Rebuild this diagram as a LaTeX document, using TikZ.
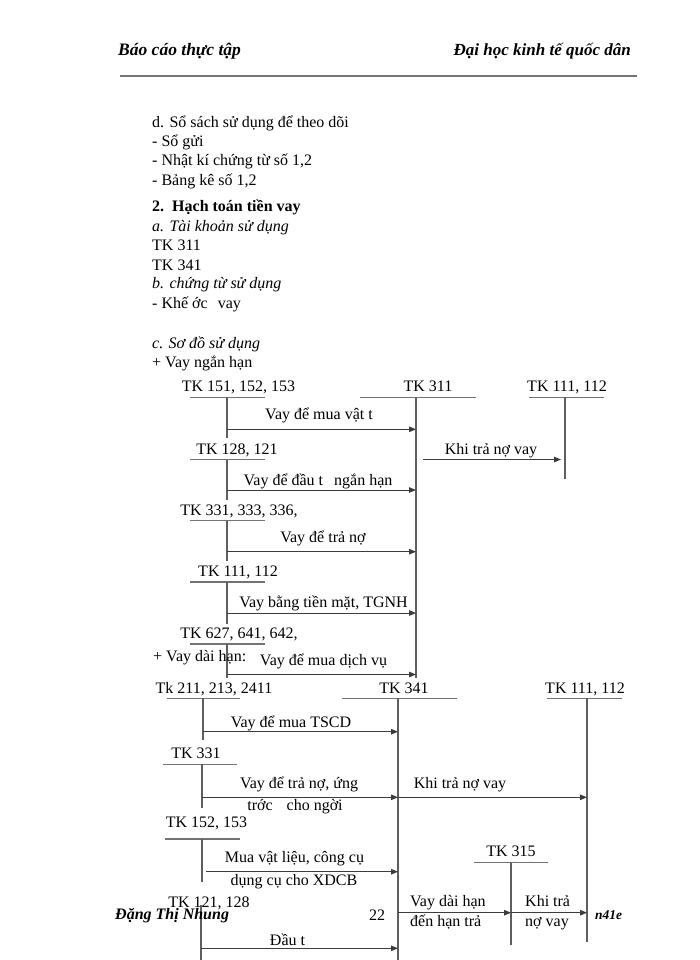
\documentclass[tikz,border=0pt]{standalone}
\usepackage{fontspec}
\setmainfont{Liberation Serif}
\usetikzlibrary{arrows.meta}
\definecolor{ulgray}{RGB}{115,115,115}
\definecolor{vgray}{RGB}{95,95,95}
\definecolor{agray}{RGB}{60,60,60}
\newcommand{\TAcct}[9]{%
  \node[txt] (#1) at (#2,#3) {#9};
  \coordinate (#1-l) at (#4,#6); \coordinate (#1-r) at (#5,#6);
  \coordinate (#1-t) at (#7,#6); \coordinate (#1-b) at (#7,#8);
  \draw[acct] (#1-l) -- (#1-r);
  \draw[vline] (#1-t) -- (#1-b);}
\newcommand{\Flow}[4]{%
  \coordinate (#1-s) at (#2,#4); \coordinate (#1-e) at (#3,#4);
  \draw[arr] (#1-s) -- (#1-e);}
\begin{document}
\begin{tikzpicture}[x=1pt,y=-1pt,
  txt/.style={font=\fontsize{16}{19}\selectfont, inner sep=0pt, anchor=base},
  ltxt/.style={txt, anchor=base west},
  acct/.style={draw=ulgray, line width=1.5pt},
  vline/.style={draw=vgray, line width=1.2pt},
  arr/.style={draw=agray, line width=1pt, -{Triangle[length=7pt,width=5.5pt]}},
  hdr/.style={font=\fontsize{17.5}{20}\selectfont\bfseries\itshape, inner sep=0pt, anchor=base west},
  ftr/.style={font=\fontsize{16}{19}\selectfont\bfseries\itshape, inner sep=0pt, anchor=base west}]
\useasboundingbox (0,0) rectangle (700,960);
\fill[white] (0,0) rectangle (700,960);
% header
\node[hdr] (h1) at (118,56) {Báo cáo thực tập};
\node[hdr, anchor=base east, font=\fontsize{17}{20}\selectfont\bfseries\itshape] (h2) at (631,56) {Đại học kinh tế quốc dân};
\coordinate (rl) at (120,76.5); \coordinate (rr) at (637,76.5);
\draw[draw=ulgray, line width=2pt] (rl) -- (rr);
% text block
\node[ltxt] (t1) at (152,127.5) {d. Sổ sách sử dụng để theo dõi};
\node[ltxt] (t2) at (152,146.7) {- Sổ gửi};
\node[ltxt] (t3) at (152,166) {- Nhật kí chứng từ số 1,2};
\node[ltxt] (t4) at (152,185.5) {- Bảng kê số 1,2};
\node[ltxt, font=\fontsize{16}{19}\selectfont\bfseries] (t5) at (152,211.7) {2.\ \ Hạch toán tiền vay};
\node[ltxt, font=\fontsize{16}{19}\selectfont\itshape] (t6) at (152,231) {a. Tài khoản sử dụng};
\node[ltxt] (t7) at (152,250) {TK 311};
\node[ltxt] (t8) at (152,270) {TK 341};
\node[ltxt, font=\fontsize{16}{19}\selectfont\itshape] (t9) at (152,288.5) {b. chứng từ sử dụng};
\node[ltxt] (t10) at (152,308) {- Khế ớc \hspace{6pt}vay};
\node[ltxt, font=\fontsize{16}{19}\selectfont\itshape] (t11) at (152,348) {c. Sơ đồ sử dụng};
\node[ltxt] (t12) at (152,367) {+ Vay ngắn hạn};
% short-term diagram
\TAcct{A1}{238.5}{391.7}{190}{265}{397.3}{227}{438}{TK 151, 152, 153}
\TAcct{A2}{428}{391.7}{360}{476}{397.3}{416}{678}{TK 311}
\TAcct{A3}{567}{391.7}{529}{604}{397.3}{565}{479}{TK 111, 112}
\node[txt] (l1) at (319,419.3) {Vay để mua vật t};
\Flow{f1}{227}{416}{429.3}
\TAcct{A4}{237}{454}{190}{265}{459.5}{227}{500}{TK 128, 121}
\node[txt] (l2) at (491,454) {Khi trả nợ vay};
\Flow{f2}{423}{561}{459.5}
\node[txt] (l3) at (318,485) {Vay để đầu t \hspace{7pt}ngắn hạn};
\Flow{f3}{227}{416}{490}
\TAcct{A5}{239}{515}{190}{265}{520.7}{227}{561}{TK 331, 333, 336,}
\node[txt] (l4) at (323,542.7) {Vay để trả nợ};
\Flow{f4}{227}{416}{551.7}
\TAcct{A6}{238}{576.5}{190}{265}{582}{227}{624}{TK 111, 112}
\node[txt] (l5) at (323.5,607) {Vay bằng tiền mặt, TGNH};
\Flow{f5}{227}{416}{613}
\TAcct{A7}{239}{638.5}{190}{265}{644}{227}{678}{TK 627, 641, 642,}
\node[ltxt] (l6) at (153,661.7) {+ Vay dài hạn:};
\node[txt] (l7) at (323.5,665) {Vay để mua dịch vụ};
\Flow{f6}{227}{416}{674.5}
% long-term diagram
\TAcct{B1}{214}{693.3}{167}{240}{698.3}{203}{740}{Tk 211, 213, 2411}
\TAcct{B2}{404}{693.3}{342}{457}{698.3}{398}{960}{TK 341}
\TAcct{B3}{585}{693.3}{547}{622}{698.3}{587}{942}{TK 111, 112}
\node[txt] (m1) at (291,727) {Vay để mua TSCD};
\Flow{g1}{203}{398}{731.7}
\TAcct{B4}{196}{758}{163}{237}{764.3}{202}{808}{TK 331}
\node[txt] (m2) at (299,788) {Vay để trả nợ, ứng};
\node[txt] (m3) at (295,810) {trớc \hspace{10pt}cho ngời};
\Flow{g2}{202}{398}{797.3}
\node[txt] (m4) at (460,788) {Khi trả nợ vay};
\Flow{g3}{398}{587}{797.3}
\TAcct{B5}{206.5}{827.3}{165}{240}{839}{202}{882}{TK 152, 153}
\node[txt] (m5) at (294.5,862.7) {Mua vật liệu, công cụ};
\node[txt] (m6) at (294,885) {dụng cụ cho XDCB};
\Flow{g4}{206}{398}{871.7}
\TAcct{B6}{511}{856.7}{474}{548}{862.7}{511}{945}{TK 315}
\node[txt] (B7) at (209,907) {TK 121, 128};
\coordinate (B7-t) at (201,905); \coordinate (B7-b) at (201,960);
\draw[vline] (B7-t) -- (B7-b);
\node[ltxt] (m7) at (410,906.7) {Vay dài hạn};
\node[ltxt] (m8) at (410,926) {đến hạn trả};
\Flow{g5}{398}{511}{912.7}
\node[ltxt] (m9) at (525,906) {Khi trả};
\node[ltxt] (m10) at (525,926) {nợ vay};
\Flow{g6}{511}{587}{912.7}
\node[txt] (m11) at (287.5,945) {Đầu t};
\Flow{g7}{201}{398}{948.3}
% footer
\node[ftr] (ft1) at (115,919) {Đặng Thị Nhung};
\node[txt] (ft2) at (377,920) {22};
\node[ftr, font=\fontsize{13.5}{16}\selectfont\bfseries\itshape] (ft3) at (595,919) {n41e};
\end{tikzpicture}
\end{document}
